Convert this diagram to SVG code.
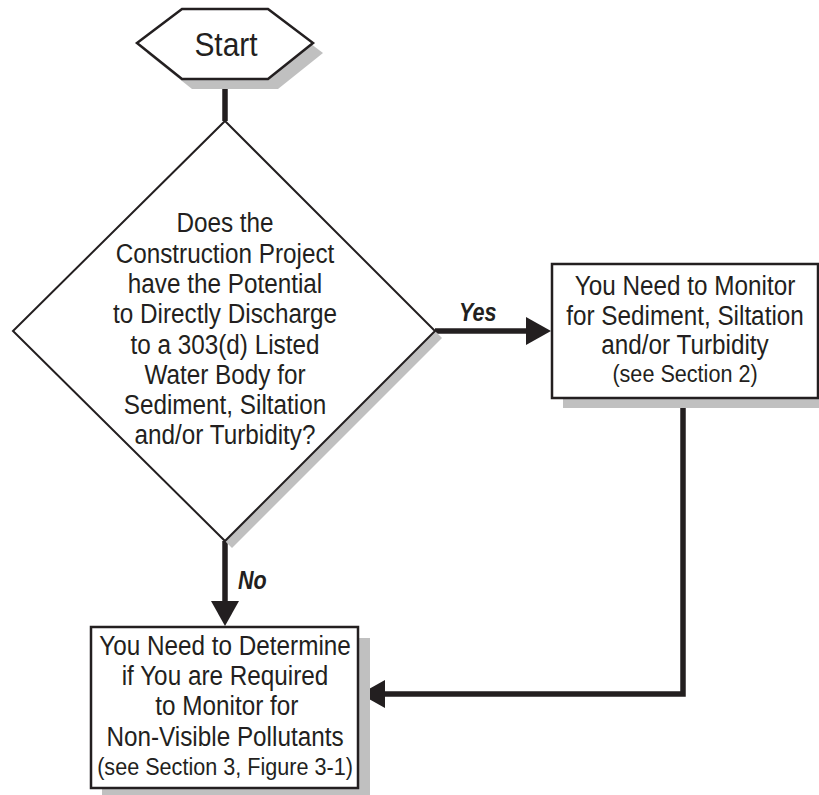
<svg xmlns="http://www.w3.org/2000/svg" width="819" height="795" viewBox="0 0 819 795">
  <style>
    .shape { fill: #ffffff; stroke: #231f20; stroke-width: 2.5; stroke-linejoin: miter; }
    .thin { stroke-width: 2; }
    .shadow { fill: #c0c0c0; stroke: none; }
    .txt { font-family: "Liberation Sans", Arial, sans-serif; font-size: 27px; fill: #231f20; text-anchor: middle; }
    .small { font-size: 24px; }
    .start { font-size: 34px; }
    .lbl { font-family: "Liberation Sans", Arial, sans-serif; font-size: 26px; font-weight: bold; font-style: italic; fill: #231f20; }
    .conn { fill: none; stroke: #231f20; stroke-width: 5.5; stroke-linejoin: miter; }
  </style>
  <defs>
    <marker id="arrow" viewBox="0 0 25 28" refX="2" refY="14" markerWidth="25" markerHeight="28" markerUnits="userSpaceOnUse" orient="auto">
      <path d="M0,0 L25,14 L0,28 Z" fill="#231f20"/>
    </marker>
  </defs>

  <rect width="819" height="795" fill="#ffffff"/>

  <g id="connectors">
    <line class="conn" x1="225" y1="79" x2="225" y2="121"/>
    <line class="conn" x1="435" y1="331" x2="528" y2="331" marker-end="url(#arrow)"/>
    <line class="conn" x1="225" y1="541" x2="225" y2="603" marker-end="url(#arrow)"/>
    <path class="conn" d="M683,398 V694 H383" marker-end="url(#arrow)"/>
  </g>

  <g id="start">
    <polygon class="shadow" points="147,53 192,19 278,19 323,53 278,89 192,89"/>
    <polygon class="shape" points="137,43 182,9 268,9 313,43 268,79 182,79"/>
    <g transform="translate(226,0) scale(0.88,1)">
      <text class="txt start" x="0" y="56">Start</text>
    </g>
  </g>

  <g id="decision">
    <polygon class="shadow" points="232,128 442,338 232,548 20,338"/>
    <polygon class="shape thin" points="225,121 435,331 225,541 13,331"/>
    <g transform="translate(225,0) scale(0.9,1)">
      <text class="txt" x="0" y="232">Does the</text>
      <text class="txt" x="0" y="263">Construction Project</text>
      <text class="txt" x="0" y="293">have the Potential</text>
      <text class="txt" x="0" y="323">to Directly Discharge</text>
      <text class="txt" x="0" y="354">to a 303(d) Listed</text>
      <text class="txt" x="0" y="384">Water Body for</text>
      <text class="txt" x="0" y="414">Sediment, Siltation</text>
      <text class="txt" x="0" y="444">and/or Turbidity?</text>
    </g>
  </g>

  <g id="monitor">
    <rect class="shadow" x="563" y="274" width="266" height="134"/>
    <rect class="shape" x="552" y="264" width="266" height="134"/>
    <g transform="translate(685,0) scale(0.9,1)">
      <text class="txt" x="0" y="295">You Need to Monitor</text>
      <text class="txt" x="0" y="325">for Sediment, Siltation</text>
      <text class="txt" x="0" y="354">and/or Turbidity</text>
      <text class="txt small" x="0" y="382">(see Section 2)</text>
    </g>
  </g>

  <g id="determine">
    <rect class="shadow" x="102" y="638" width="268" height="161"/>
    <rect class="shape" x="91" y="627" width="267" height="161"/>
    <g transform="translate(225,0) scale(0.9,1)">
      <text class="txt" x="0" y="655">You Need to Determine</text>
      <text class="txt" x="0" y="685">if You are Required</text>
      <text class="txt" x="2" y="715">to Monitor for</text>
      <text class="txt" x="0" y="746">Non-Visible Pollutants</text>
      <text class="txt small" x="0" y="775">(see Section 3, Figure 3-1)</text>
    </g>
  </g>

  <g id="labels">
    <g transform="translate(459,0) scale(0.83,1)">
      <text class="lbl" x="0" y="321">Yes</text>
    </g>
    <g transform="translate(238,0) scale(0.83,1)">
      <text class="lbl" x="0" y="589">No</text>
    </g>
  </g>
</svg>
